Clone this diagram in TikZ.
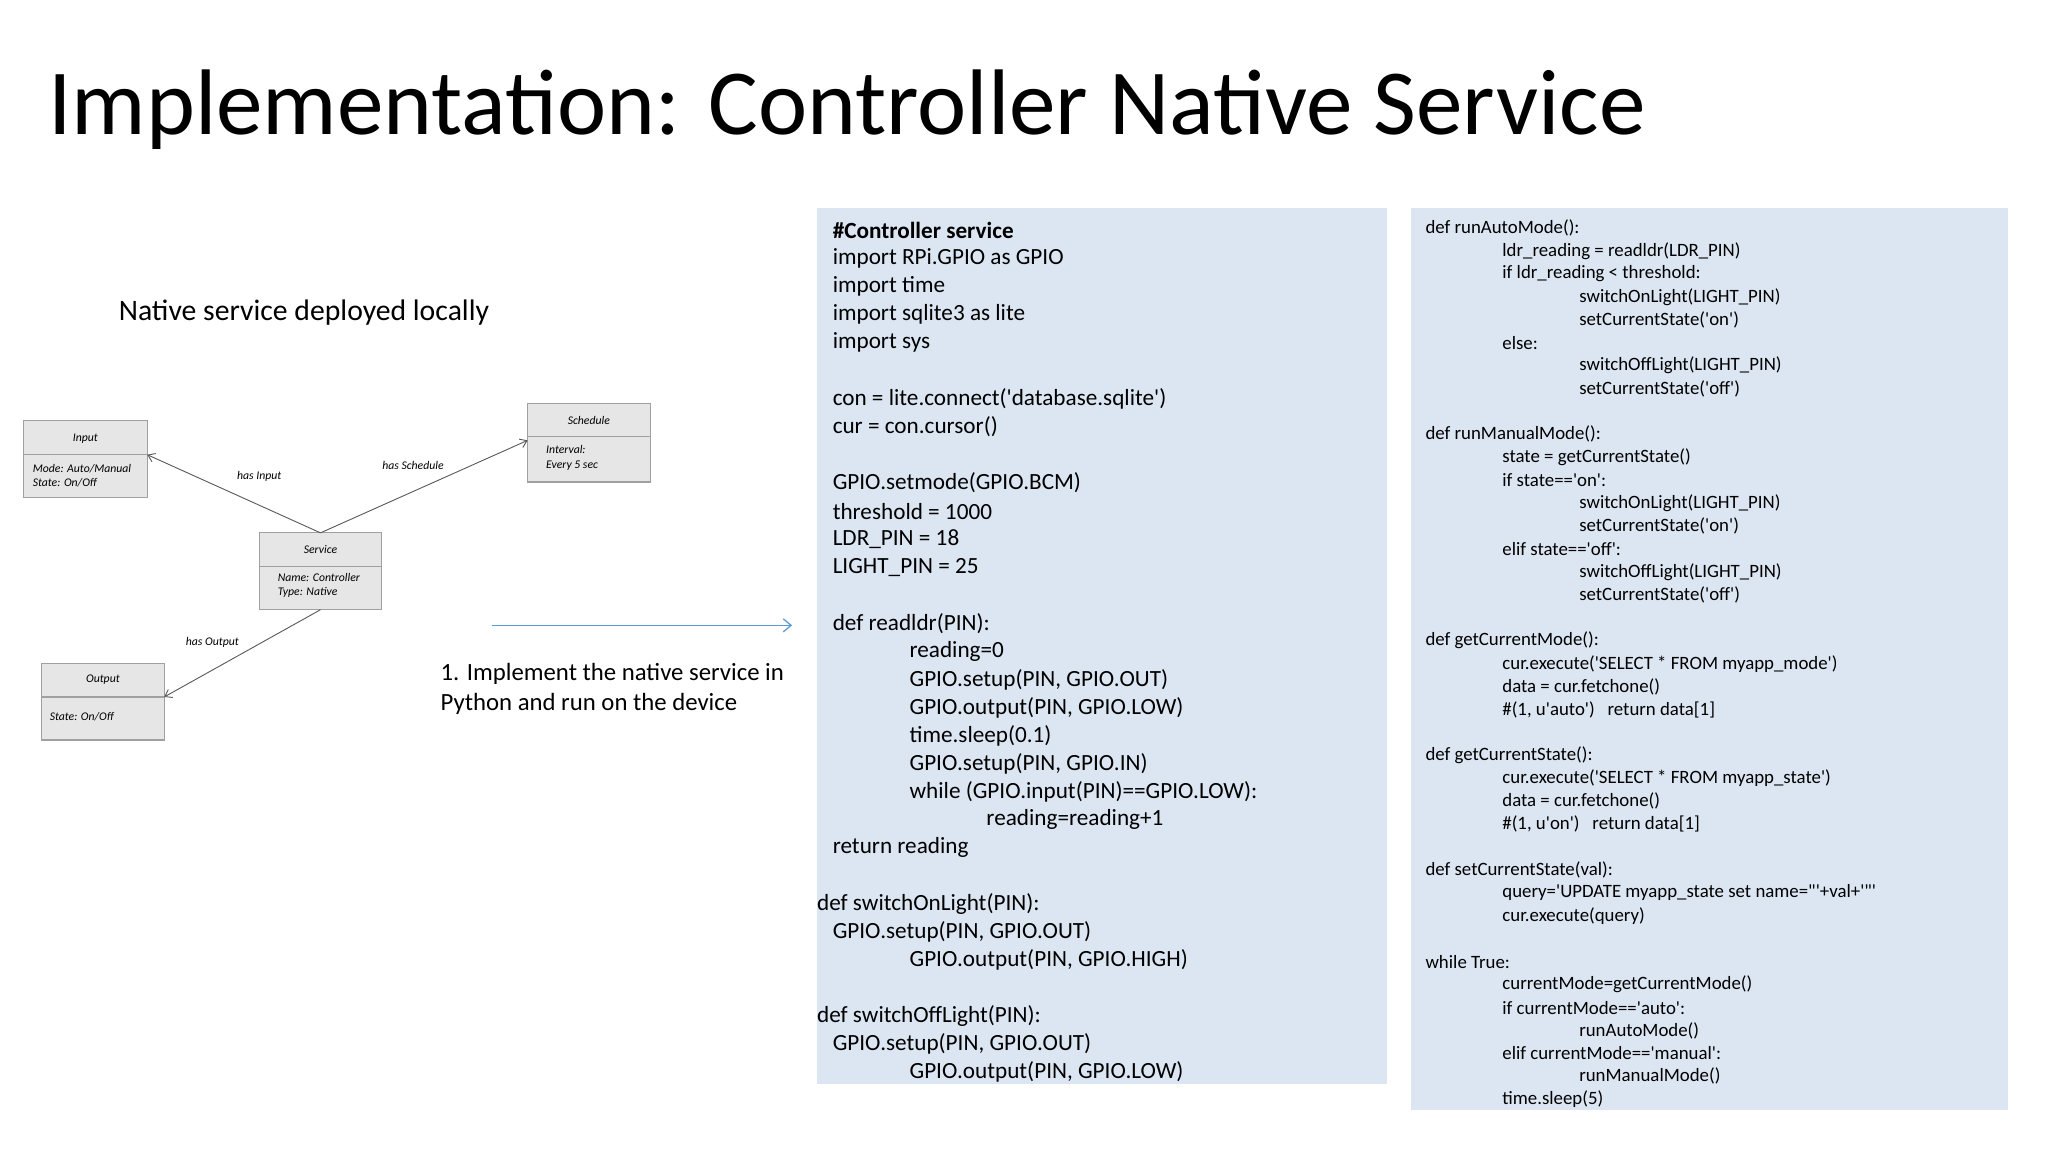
\documentclass[tikz,border=0pt]{standalone}
\usepackage{fontspec}
\setmainfont{Carlito}
\newfontfamily\code{Carlito}
\usetikzlibrary{arrows.meta}
\definecolor{codebg}{HTML}{DCE6F2}
\definecolor{umlfill}{HTML}{E6E6E6}
\definecolor{umlline}{HTML}{A0A0A0}
\definecolor{arrowblue}{HTML}{5B9BD5}
\tikzset{
  umlbox/.style={draw=umlline, fill=umlfill, line width=0.9pt},
  umltxt/.style={font=\itshape\fontsize{9}{11}\selectfont, inner sep=0pt},
  rel/.style={draw=black!65, line width=0.7pt, -{Straight Barb[length=5pt,width=7pt]}},
  mcode/.style={anchor=west, inner sep=0pt, font=\code\fontsize{17.8}{20}\selectfont},
  rcode/.style={anchor=west, inner sep=0pt, font=\code\fontsize{14.45}{16}\selectfont}
}
\newcommand{\mline}[3]{\node[mcode] at (#1,-177-21.53*#2) {#3};}
\newcommand{\rline}[3]{\node[rcode] at (#1,-175-17.6*#2) {#3};}
\begin{document}
\begin{tikzpicture}[x=1pt,y=1pt]
\useasboundingbox (0,0) rectangle (1572,-884);
% title
\node[anchor=base west, inner sep=0pt, font=\fontsize{71.5}{76}\selectfont] (title) at (37,-103) {Implementation: Controller Native Service};
\node[anchor=base west, inner sep=0pt, font=\fontsize{22.8}{26}\selectfont] (sub) at (91,-246) {Native service deployed locally};
% UML boxes
\draw[umlbox] (18,-323) rectangle (113,-382); \draw[umlline,line width=0.9pt] (18,-349) -- (113,-349);
\node[umltxt] (inT) at (65.5,-337) {Input};
\node[umltxt, anchor=north west, align=left] (inB) at (25,-356) {Mode: Auto/Manual\\State: On/Off};
\coordinate (inP) at (113,-349);
\draw[umlbox] (405,-310) rectangle (499,-370); \draw[umlline,line width=0.9pt] (405,-335) -- (499,-335);
\node[umltxt] (scT) at (452,-323) {Schedule};
\node[umltxt, anchor=north west, align=left] (scB) at (419,-342) {Interval:\\Every 5 sec};
\coordinate (scP) at (405,-338);
\draw[umlbox] (199,-409) rectangle (293,-468); \draw[umlline,line width=0.9pt] (199,-435) -- (293,-435);
\node[umltxt] (svT) at (246,-422) {Service};
\node[umltxt, anchor=north west, align=left] (svB) at (213,-440) {Name: Controller\\Type: Native};
\coordinate (svTop) at (246,-409);
\coordinate (svBot) at (246,-468);
\draw[umlbox] (32,-509) rectangle (126,-568); \draw[umlline,line width=0.9pt] (32,-535) -- (126,-535);
\node[umltxt] (ouT) at (79,-522) {Output};
\node[umltxt, anchor=west] (ouB) at (38,-550) {State: On/Off};
\coordinate (ouP) at (126,-535);
\draw[rel] (svTop) -- (inP);
\draw[rel] (svTop) -- (scP);
\draw[rel] (svBot) -- (ouP);
\node[umltxt] (l1) at (199,-366) {has Input};
\node[umltxt] (l2) at (317,-357) {has Schedule};
\node[umltxt] (l3) at (163,-493) {has Output};
% blue arrow
\coordinate (ba) at (378,-480); \coordinate (bb) at (608,-480);
\draw[arrowblue, line width=1pt, -{Straight Barb[length=6pt,width=10pt]}] (ba) -- (bb);
\node[anchor=base west, inner sep=0pt, align=left, font=\fontsize{19}{23}\selectfont] (impl) at (338,-545) {1. Implement the native service in\\Python and run on the device};
% middle code box
\fill[codebg] (627,-160) rectangle (1065,-832);
\mline{639}{0}{\textbf{\#Controller service}}
\mline{639}{1}{import RPi.GPIO as GPIO}
\mline{639}{2}{import time}
\mline{639}{3}{import sqlite3 as lite}
\mline{639}{4}{import sys}
\mline{639}{6}{con = lite.connect('database.sqlite')}
\mline{639}{7}{cur = con.cursor()}
\mline{639}{9}{GPIO.setmode(GPIO.BCM)}
\mline{639}{10}{threshold = 1000}
\mline{639}{11}{LDR\_PIN = 18}
\mline{639}{12}{LIGHT\_PIN = 25}
\mline{639}{14}{def readldr(PIN):}
\mline{698}{15}{reading=0}
\mline{698}{16}{GPIO.setup(PIN, GPIO.OUT)}
\mline{698}{17}{GPIO.output(PIN, GPIO.LOW)}
\mline{698}{18}{time.sleep(0.1)}
\mline{698}{19}{GPIO.setup(PIN, GPIO.IN)}
\mline{698}{20}{while (GPIO.input(PIN)==GPIO.LOW):}
\mline{757}{21}{reading=reading+1}
\mline{639}{22}{return reading}
\mline{627}{24}{def switchOnLight(PIN):}
\mline{639}{25}{GPIO.setup(PIN, GPIO.OUT)}
\mline{698}{26}{GPIO.output(PIN, GPIO.HIGH)}
\mline{627}{28}{def switchOffLight(PIN):}
\mline{639}{29}{GPIO.setup(PIN, GPIO.OUT)}
\mline{698}{30}{GPIO.output(PIN, GPIO.LOW)}
% right code box
\fill[codebg] (1083,-160) rectangle (1541,-852);
\rline{1094}{0}{def runAutoMode():}
\rline{1153}{1}{ldr\_reading = readldr(LDR\_PIN)}
\rline{1153}{2}{if ldr\_reading < threshold:}
\rline{1212}{3}{switchOnLight(LIGHT\_PIN)}
\rline{1212}{4}{setCurrentState('on')}
\rline{1153}{5}{else:}
\rline{1212}{6}{switchOffLight(LIGHT\_PIN)}
\rline{1212}{7}{setCurrentState('off')}
\rline{1094}{9}{def runManualMode():}
\rline{1153}{10}{state = getCurrentState()}
\rline{1153}{11}{if state=='on':}
\rline{1212}{12}{switchOnLight(LIGHT\_PIN)}
\rline{1212}{13}{setCurrentState('on')}
\rline{1153}{14}{elif state=='off':}
\rline{1212}{15}{switchOffLight(LIGHT\_PIN)}
\rline{1212}{16}{setCurrentState('off')}
\rline{1094}{18}{def getCurrentMode():}
\rline{1153}{19}{cur.execute('SELECT * FROM myapp\_mode')}
\rline{1153}{20}{data = cur.fetchone()}
\rline{1153}{21}{\#(1, u'auto')\ \ \ return data[1]}
\rline{1094}{23}{def getCurrentState():}
\rline{1153}{24}{cur.execute('SELECT * FROM myapp\_state')}
\rline{1153}{25}{data = cur.fetchone()}
\rline{1153}{26}{\#(1, u'on')\ \ \ return data[1]}
\rline{1094}{28}{def setCurrentState(val):}
\rline{1153}{29}{query='UPDATE myapp\_state set name="'+val+'"'}
\rline{1153}{30}{cur.execute(query)}
\rline{1094}{32}{while True:}
\rline{1153}{33}{currentMode=getCurrentMode()}
\rline{1153}{34}{if currentMode=='auto':}
\rline{1212}{35}{runAutoMode()}
\rline{1153}{36}{elif currentMode=='manual':}
\rline{1212}{37}{runManualMode()}
\rline{1153}{38}{time.sleep(5)}
\end{tikzpicture}
\end{document}
